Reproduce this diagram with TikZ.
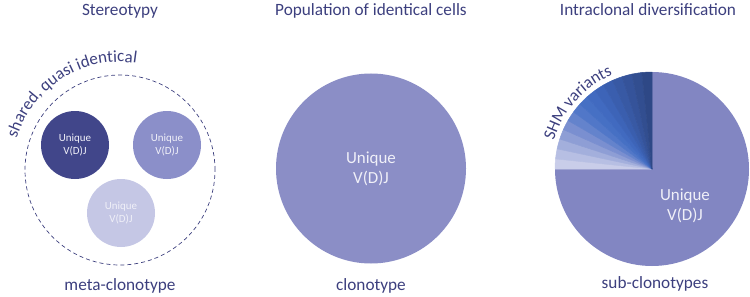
\documentclass[tikz,border=0pt]{standalone}
\usepackage{fontspec}
\setsansfont{Carlito}
\usepackage{xcolor}
\usepackage{tikz}
\usetikzlibrary{decorations.text}
\definecolor{scInk}{HTML}{3C3F7E}
\definecolor{scDark}{HTML}{41468A}
\definecolor{scMid}{HTML}{8B8FC9}
\definecolor{scLight}{HTML}{C5C7E5}
\definecolor{scClone}{HTML}{8B8EC6}
\definecolor{scPie}{HTML}{8286C2}
\definecolor{scText}{HTML}{F0F0F8}

\begin{document}
\begin{tikzpicture}[x=1bp,y=1bp,font=\sffamily,
  ttl/.style={anchor=base,text=scInk,font=\sffamily\fontsize{17.3}{20}\selectfont},
  cell/.style={circle,inner sep=0pt,minimum size=68bp,align=center,
               text=scText,font=\sffamily\fontsize{11}{14}\selectfont},
  big/.style={circle,inner sep=0pt,minimum size=190bp,align=center,
              text=scText,font=\sffamily\fontsize{17}{20}\selectfont}]
\useasboundingbox (0,0) rectangle (750,296);

% titles and bottom labels
\node[ttl] (T1) at (120,281) {Stereotypy};
\node[ttl] (T2) at (371,281) {Population of identical cells};
\node[ttl] (T3) at (648,281) {Intraclonal diversification};
\node[ttl] (B1) at (120,6) {meta-clonotype};
\node[ttl] (B2) at (371,6) {clonotype};
\node[ttl] (B3) at (655,8) {sub-clonotypes};

% stereotypy
\node[circle,draw=scInk,line width=0.7bp,dash pattern=on 4bp off 3bp,
      minimum size=190bp] (meta) at (120,126) {};
\node[cell,fill=scDark] (c1) at (75,151) {Unique\\V(D)J};
\node[cell,fill=scMid] (c2) at (167,151) {Unique\\V(D)J};
\node[cell,fill=scLight] (c3) at (121,83) {Unique\\V(D)J};
\path[decorate,decoration={text along path,text color=scInk,
      text={|\sffamily\fontsize{17}{20}\selectfont|shared, quasi identical}}]
  ([shift={(163:108)}]meta.center) arc[start angle=163,end angle=60,radius=108];

% clonotype
\node[big,fill=scClone] (clone) at (371,127.5) {Unique\\V(D)J};

% sub-clonotypes
\coordinate (pie) at (652,127);
\fill[scPie] (pie) -- ++(90:97) arc[start angle=90,end angle=-180,radius=97] -- cycle;
\foreach \c [count=\i] in {C9CDE9,B7BFE3,A3AFDC,8E9ED5,7A8FD0,6483CC,5177C8,
                           4670C4,416AC0,3D64B8,3A5EAE,3859A4,35539A,324E90,2E4886}{
  \definecolor{shm}{HTML}{\c}
  \filldraw[shm,line width=0.5bp,line join=round] (pie) -- ++({186-6*\i}:97)
    arc[start angle={186-6*\i},end angle={180-6*\i},radius=97] -- cycle;
}
\node[align=center,text=scText,font=\sffamily\fontsize{17}{20}\selectfont]
  (u) at (685,90) {Unique\\V(D)J};
\path[decorate,decoration={text along path,text color=scInk,
      text={|\sffamily\fontsize{17}{20}\selectfont|SHM variants}}]
  ([shift={(164:102)}]pie) arc[start angle=164,end angle=95,radius=102];
\end{tikzpicture}
\end{document}
